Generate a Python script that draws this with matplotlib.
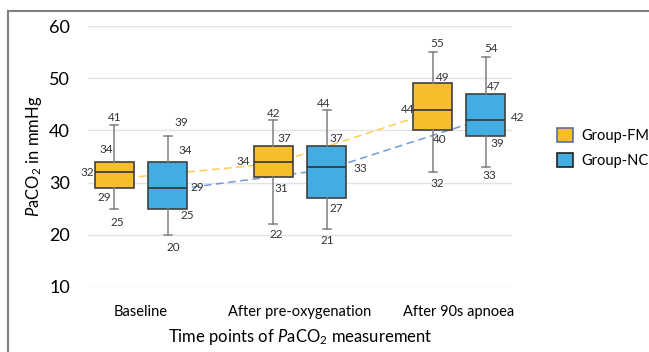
import numpy as np
import matplotlib
matplotlib.use('Agg')
import matplotlib.pyplot as plt
from matplotlib.patches import Patch
from matplotlib.lines import Line2D

plt.rcParams['font.family'] = ['Lato', 'DejaVu Sans']
plt.rcParams['mathtext.fontset'] = 'custom'
plt.rcParams['mathtext.rm'] = 'Lato'
plt.rcParams['mathtext.it'] = 'Lato:italic'

# data: min, Q1, median, Q3, max per time point
time_points = ['Baseline', 'After pre-oxygenation', 'After 90s apnoea']
groups = ['Group-FM', 'Group-NC']
fm_min = [25, 22, 32]
fm_q1 = [29, 31, 40]
fm_med = [32, 34, 44]
fm_q3 = [34, 37, 49]
fm_max = [41, 42, 55]
nc_min = [20, 21, 33]
nc_q1 = [25, 27, 39]
nc_med = [29, 33, 42]
nc_q3 = [34, 37, 47]
nc_max = [39, 44, 54]
# mean trend lines (dashed)
fm_mean = [30.7, 33.6, 43.5]
nc_mean = [28.5, 32.5, 42.3]

fm_color = '#F8BD2B'
nc_color = '#43ACE0'
fm_line = '#FFCB55'
nc_line = '#6E9BD6'

# label offsets in pixels (dx, dy) for min, q1, med, q3, max
fm_offsets = [
    [(3, 14), (-10, 10), (-27, 0), (-8, -12), (0, -8)],
    [(3, 10), (8, 11), (-30, 0), (11, -8), (0, -6)],
    [(5, 11), (7, 9), (-25, 0), (10, -6), (5, -9)],
]
nc_offsets = [
    [(6, 13), (20, 7), (30, 0), (18, -11), (14, -13)],
    [(1, 11), (10, 10), (34, 2), (10, -8), (-3, -6)],
    [(4, 9), (12, 8), (32, -2), (8, -7), (5, -9)],
]

fig = plt.figure(figsize=(6.49, 3.52), dpi=100)
ax = fig.add_axes([0.1356, 0.185, 0.6534, 0.741])

x = np.arange(len(time_points))
shift = 0.167
width = 0.245


def stats(mins, q1s, meds, q3s, maxs, label):
    return [dict(whislo=a, q1=b, med=c, q3=d, whishi=e, label=label)
            for a, b, c, d, e in zip(mins, q1s, meds, q3s, maxs)]


fm_stats = stats(fm_min, fm_q1, fm_med, fm_q3, fm_max, 'FM')
nc_stats = stats(nc_min, nc_q1, nc_med, nc_q3, nc_max, 'NC')

# dashed mean lines behind the boxes
ax.plot(x - shift, fm_mean, ls=(0, (5, 3)), color=fm_line, lw=1.1, zorder=2)
ax.plot(x + shift, nc_mean, ls=(0, (5, 3)), color=nc_line, lw=1.1, zorder=2)

for st, pos, col in [(fm_stats, x - shift, fm_color), (nc_stats, x + shift, nc_color)]:
    ax.bxp(st, positions=pos, widths=width, patch_artist=True, showfliers=False,
           boxprops=dict(facecolor=col, edgecolor='#404040', lw=1.2),
           medianprops=dict(color='#333333', lw=1.2),
           whiskerprops=dict(color='#808080', lw=1.1),
           capprops=dict(color='#808080', lw=1.1),
           capwidths=0.05, zorder=3)

# data labels
for vals_set, pos, offs in [
        ((fm_min, fm_q1, fm_med, fm_q3, fm_max), x - shift, fm_offsets),
        ((nc_min, nc_q1, nc_med, nc_q3, nc_max), x + shift, nc_offsets)]:
    for i in range(len(time_points)):
        for k, vals in enumerate(vals_set):
            dx, dy = offs[i][k]
            ax.annotate(str(vals[i]), (pos[i], vals[i]),
                        xytext=(dx * 0.72, -dy * 0.72), textcoords='offset points',
                        ha='center', va='center', fontsize=8.5, color='#333333',
                        zorder=5)

ax.set_xlim(-0.333, 2.333)
ax.set_ylim(10, 60)
ax.set_yticks(range(10, 61, 10))
ax.set_xticks(x)
ax.set_xticklabels(time_points, fontsize=10.5)
ax.tick_params(axis='y', labelsize=13, length=0, pad=13)
ax.tick_params(axis='x', length=0, pad=13)
ax.grid(axis='y', color='#E3E3E3', lw=1)
ax.set_axisbelow(True)
for s in ax.spines.values():
    s.set_visible(False)

ax.set_xlabel(r'Time points of $\it{P}$aCO$_2$ measurement', fontsize=12, labelpad=6)
ax.set_ylabel(r'$\it{P}$aCO$_2$ in mmHg', fontsize=12, labelpad=4)

handles = [Patch(facecolor=fm_color, edgecolor='#5B6E9E', lw=1.2),
           Patch(facecolor=nc_color, edgecolor='#222222', lw=1.2)]
fig.legend(handles, groups, loc='center left', bbox_to_anchor=(0.853, 0.58),
           frameon=False, fontsize=10.5, handlelength=1.1, handleheight=1.1,
           handletextpad=0.6, labelspacing=0.7, borderpad=0.2, borderaxespad=0)

# outer frame (top and left)
fig.add_artist(Line2D([0.012, 1.0], [0.970, 0.970], color='#808080', lw=1.5))
fig.add_artist(Line2D([0.013, 0.013], [0.0, 0.970], color='#808080', lw=1.5))

fig.savefig('out.png', dpi=100)
